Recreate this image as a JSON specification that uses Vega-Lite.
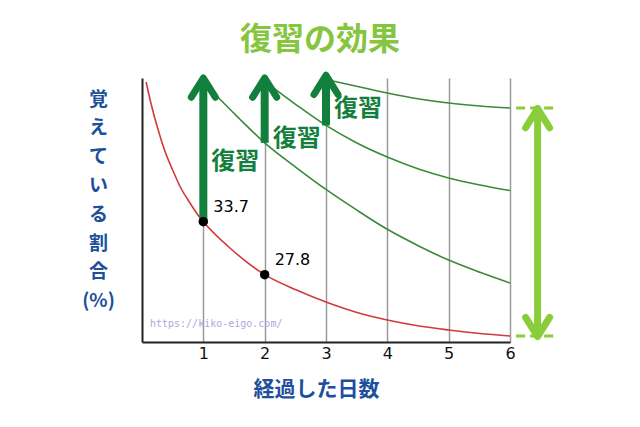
{
  "$schema": "https://vega.github.io/schema/vega-lite/v6.json",
  "width": 368,
  "height": 264,
  "autosize": {"type": "none"},
  "padding": {"left": 142, "top": 78, "right": 130, "bottom": 85},
  "background": "white",
  "config": {"view": {"stroke": null}},
  "title": {
    "text": "復習の効果",
    "font": "Noto Sans CJK JP",
    "fontSize": 32,
    "fontWeight": "bold",
    "color": "#86c540",
    "anchor": "middle",
    "dx": -6,
    "offset": 15
  },
  "datasets": {
    "curves": [
      {"day": 0.067, "pct": 49.25, "series": "forget"},
      {"day": 0.133, "pct": 47.25, "series": "forget"},
      {"day": 0.25, "pct": 44.24, "series": "forget"},
      {"day": 0.367, "pct": 41.68, "series": "forget"},
      {"day": 0.5, "pct": 39.45, "series": "forget"},
      {"day": 0.633, "pct": 37.45, "series": "forget"},
      {"day": 0.783, "pct": 35.78, "series": "forget"},
      {"day": 0.9, "pct": 34.55, "series": "forget"},
      {"day": 1, "pct": 33.7, "series": "forget"},
      {"day": 1.415, "pct": 30.88, "series": "forget"},
      {"day": 2, "pct": 27.8, "series": "forget"},
      {"day": 2.52, "pct": 26.09, "series": "forget"},
      {"day": 3, "pct": 24.75, "series": "forget"},
      {"day": 3.48, "pct": 23.64, "series": "forget"},
      {"day": 4, "pct": 22.75, "series": "forget"},
      {"day": 4.52, "pct": 22.08, "series": "forget"},
      {"day": 5, "pct": 21.64, "series": "forget"},
      {"day": 5.51, "pct": 21.25, "series": "forget"},
      {"day": 6, "pct": 20.97, "series": "forget"},
      {"day": 1.14, "pct": 48.25, "series": "r1"},
      {"day": 1.57, "pct": 45.29, "series": "r1"},
      {"day": 2, "pct": 42.48, "series": "r1"},
      {"day": 2.52, "pct": 39.7, "series": "r1"},
      {"day": 3, "pct": 37.29, "series": "r1"},
      {"day": 3.48, "pct": 35.09, "series": "r1"},
      {"day": 4, "pct": 32.85, "series": "r1"},
      {"day": 4.52, "pct": 30.97, "series": "r1"},
      {"day": 5, "pct": 29.42, "series": "r1"},
      {"day": 5.51, "pct": 28.06, "series": "r1"},
      {"day": 6, "pct": 26.87, "series": "r1"},
      {"day": 2.145, "pct": 48.59, "series": "r2"},
      {"day": 2.52, "pct": 46.69, "series": "r2"},
      {"day": 3, "pct": 44.42, "series": "r2"},
      {"day": 3.48, "pct": 42.55, "series": "r2"},
      {"day": 4, "pct": 40.9, "series": "r2"},
      {"day": 4.52, "pct": 39.54, "series": "r2"},
      {"day": 5, "pct": 38.57, "series": "r2"},
      {"day": 5.51, "pct": 37.79, "series": "r2"},
      {"day": 6, "pct": 37.17, "series": "r2"},
      {"day": 3.11, "pct": 49.36, "series": "r3"},
      {"day": 3.48, "pct": 48.81, "series": "r3"},
      {"day": 4, "pct": 48.03, "series": "r3"},
      {"day": 4.52, "pct": 47.36, "series": "r3"},
      {"day": 5, "pct": 46.91, "series": "r3"},
      {"day": 5.51, "pct": 46.58, "series": "r3"},
      {"day": 6, "pct": 46.36, "series": "r3"}
    ],
    "arrows": [
      {"day": 1, "pct": 33.7, "pct2": 49.0, "tip": 49.7, "label": "復習", "labelPct": 40.3},
      {"day": 2, "pct": 42.48, "pct2": 49.0, "tip": 49.7, "label": "復習", "labelPct": 42.9},
      {"day": 3, "pct": 44.42, "pct2": 49.3, "tip": 50.0, "label": "復習", "labelPct": 46.2}
    ],
    "points": [
      {"day": 1, "pct": 33.7},
      {"day": 2, "pct": 27.8}
    ],
    "range": [
      {"day": 6.45, "pct": 21.6, "pct2": 45.6, "top": 46.3, "bottom": 20.9}
    ],
    "dash": [
      {"day": 6.1, "day2": 6.78, "pct": 46.36},
      {"day": 6.1, "day2": 6.78, "pct": 20.97}
    ],
    "watermark": [
      {"day": 0.13, "pct": 22.3, "text": "https://kiko-eigo.com/"}
    ]
  },
  "layer": [
    {
      "data": {"name": "curves"},
      "mark": {"type": "line", "interpolate": "monotone", "strokeWidth": 1.6, "clip": false},
      "encoding": {
        "x": {
          "field": "day",
          "type": "quantitative",
          "scale": {"domain": [0, 6], "nice": false, "zero": false},
          "axis": {
            "values": [1, 2, 3, 4, 5, 6],
            "format": "d",
            "title": "経過した日数",
            "titleFont": "Noto Sans CJK JP",
            "titleFontSize": 21,
            "titleFontWeight": "bold",
            "titleColor": "#1d4f9c",
            "titleX": 174,
            "titleY": 47,
            "titleAlign": "center",
            "titleBaseline": "middle",
            "labelFont": "DejaVu Sans",
            "labelFontSize": 16,
            "labelColor": "#111111",
            "labelPadding": 3,
            "labelFlush": false,
            "labelOverlap": false,
            "ticks": false,
            "domainColor": "#222222",
            "domainWidth": 2,
            "grid": true,
            "gridColor": "#9a9a9a",
            "gridWidth": 1.5
          }
        },
        "y": {
          "field": "pct",
          "type": "quantitative",
          "scale": {"domain": [20.3, 49.7], "nice": false, "zero": false},
          "axis": {
            "title": ["覚", "え", "て", "い", "る", "割", "合", "(%)"],
            "titleFont": "Noto Sans CJK JP",
            "titleFontSize": 19,
            "titleFontWeight": "bold",
            "titleColor": "#1d4f9c",
            "titleAngle": 0,
            "titleAlign": "center",
            "titleBaseline": "top",
            "titleLineHeight": 28.8,
            "titleX": -44,
            "titleY": 12,
            "labels": false,
            "ticks": false,
            "grid": false,
            "domainColor": "#222222",
            "domainWidth": 2
          }
        },
        "color": {
          "field": "series",
          "type": "nominal",
          "scale": {"domain": ["forget", "r1", "r2", "r3"], "range": ["#d23a3a", "#3a8a3a", "#3a8a3a", "#3a8a3a"]},
          "legend": null
        }
      }
    },
    {
      "data": {"name": "arrows"},
      "mark": {"type": "rule", "color": "#12803c", "strokeWidth": 8, "clip": false},
      "encoding": {
        "x": {"field": "day", "type": "quantitative"},
        "y": {"field": "pct", "type": "quantitative"},
        "y2": {"field": "pct2"}
      }
    },
    {
      "data": {"name": "arrows"},
      "mark": {"type": "point", "shape": "M-1,1.6L0,0L1,1.6", "size": 576, "filled": false, "stroke": "#12803c", "strokeWidth": 7, "strokeCap": "round", "strokeJoin": "round", "opacity": 1, "clip": false},
      "encoding": {
        "x": {"field": "day", "type": "quantitative"},
        "y": {"field": "tip", "type": "quantitative"}
      }
    },
    {
      "data": {"name": "arrows"},
      "mark": {"type": "text", "font": "Noto Sans CJK JP", "fontSize": 24, "fontWeight": "bold", "color": "#12803c", "align": "left", "baseline": "middle", "dx": 8},
      "encoding": {
        "x": {"field": "day", "type": "quantitative"},
        "y": {"field": "labelPct", "type": "quantitative"},
        "text": {"field": "label"}
      }
    },
    {
      "data": {"name": "points"},
      "mark": {"type": "circle", "size": 90, "color": "#000000", "opacity": 1},
      "encoding": {
        "x": {"field": "day", "type": "quantitative"},
        "y": {"field": "pct", "type": "quantitative"}
      }
    },
    {
      "data": {"name": "points"},
      "mark": {"type": "text", "font": "DejaVu Sans", "fontSize": 16, "color": "#000000", "align": "left", "baseline": "middle", "dx": 10, "dy": -15},
      "encoding": {
        "x": {"field": "day", "type": "quantitative"},
        "y": {"field": "pct", "type": "quantitative"},
        "text": {"field": "pct", "type": "quantitative", "format": ".1f"}
      }
    },
    {
      "data": {"name": "dash"},
      "mark": {"type": "rule", "color": "#8acd3a", "strokeWidth": 3, "strokeDash": [9, 5], "clip": false},
      "encoding": {
        "x": {"field": "day", "type": "quantitative"},
        "x2": {"field": "day2"},
        "y": {"field": "pct", "type": "quantitative"}
      }
    },
    {
      "data": {"name": "range"},
      "mark": {"type": "rule", "color": "#8acd3a", "strokeWidth": 7, "clip": false},
      "encoding": {
        "x": {"field": "day", "type": "quantitative"},
        "y": {"field": "pct", "type": "quantitative"},
        "y2": {"field": "pct2"}
      }
    },
    {
      "data": {"name": "range"},
      "mark": {"type": "point", "shape": "M-1,1.6L0,0L1,1.6", "size": 576, "filled": false, "stroke": "#8acd3a", "strokeWidth": 7, "strokeCap": "round", "strokeJoin": "round", "opacity": 1, "clip": false},
      "encoding": {
        "x": {"field": "day", "type": "quantitative"},
        "y": {"field": "top", "type": "quantitative"}
      }
    },
    {
      "data": {"name": "range"},
      "mark": {"type": "point", "shape": "M-1,-1.6L0,0L1,-1.6", "size": 576, "filled": false, "stroke": "#8acd3a", "strokeWidth": 7, "strokeCap": "round", "strokeJoin": "round", "opacity": 1, "clip": false},
      "encoding": {
        "x": {"field": "day", "type": "quantitative"},
        "y": {"field": "bottom", "type": "quantitative"}
      }
    },
    {
      "data": {"name": "watermark"},
      "mark": {"type": "text", "font": "DejaVu Sans Mono", "fontSize": 10, "color": "#b4a4e0", "align": "left", "baseline": "middle"},
      "encoding": {
        "x": {"field": "day", "type": "quantitative"},
        "y": {"field": "pct", "type": "quantitative"},
        "text": {"field": "text"}
      }
    }
  ]
}
